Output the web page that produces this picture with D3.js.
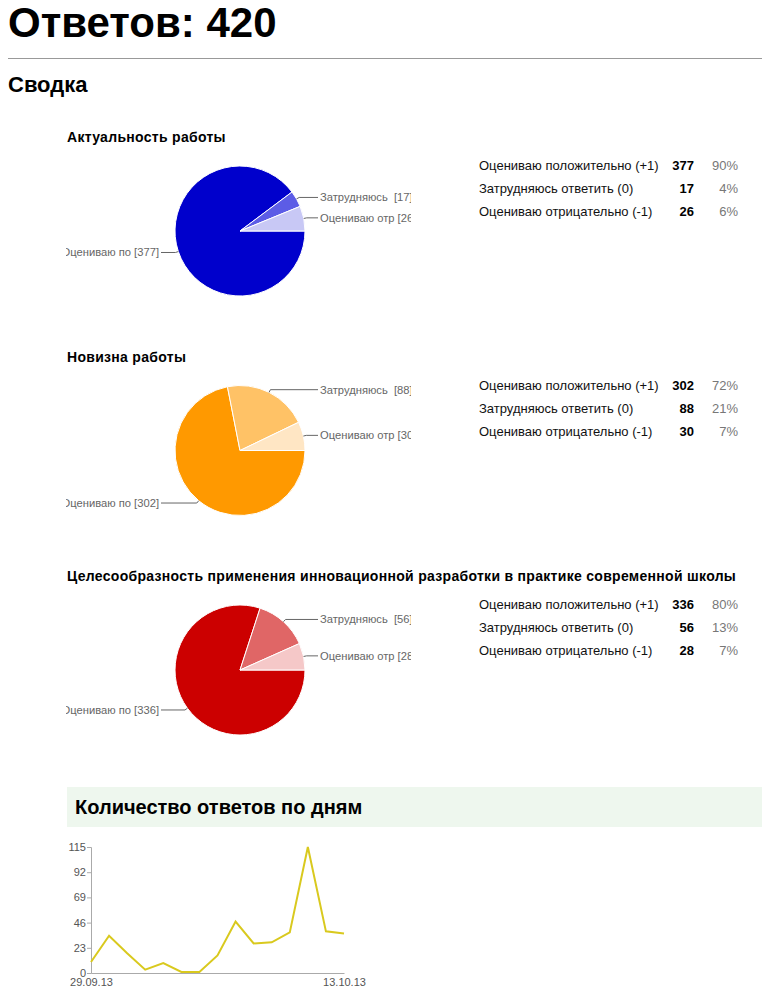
<!DOCTYPE html>
<html>
<head>
	<meta charset="utf-8">
	<script src="https://cdnjs.cloudflare.com/ajax/libs/d3/7.8.5/d3.min.js"></script>
	<style>
		body { margin: 0; background: #fff; }
		svg { display: block; font-family: "Liberation Sans", Arial, sans-serif; }
	</style>
</head>
<body>
	<svg width="762" height="1000" id="chart"></svg>

	<script>
	// data
	const totalAnswers = 420;
	const questions = [
		"Актуальность работы",
		"Новизна работы",
		"Целесообразность применения инновационной разработки в практике современной школы"
	];
	const answerLabels = ["Оцениваю положительно (+1)", "Затрудняюсь ответить (0)", "Оцениваю отрицательно (-1)"];
	const pieLabels = ["Оцениваю по", "Затрудняюсь ", "Оцениваю отр"];
	const answerCounts = [
		[377, 17, 26],
		[302, 88, 30],
		[336, 56, 28]
	];
	const dayLabels = ["29.09.13", "30.09.13", "01.10.13", "02.10.13", "03.10.13", "04.10.13", "05.10.13",
		"06.10.13", "07.10.13", "08.10.13", "09.10.13", "10.10.13", "11.10.13", "12.10.13", "13.10.13"];
	const dayCounts = [10, 34, 18, 3, 9, 1, 1, 16, 47, 27, 28, 37, 115, 38, 36];
	const yTicks = [0, 23, 46, 69, 92, 115];

	// slice colours per question
	const palettes = [
		["#0000cc", "#5c5ce6", "#c8c8f5"],
		["#ff9900", "#ffc266", "#ffe6c4"],
		["#cc0000", "#e06666", "#f5c8c8"]
	];

	const svg = d3.select("svg");

	//page header
	svg.append("text")
		.attr("x", 8).attr("y", 37)
		.style("font", "bold 42px 'Liberation Sans', Arial, sans-serif")
		.attr("fill", "#000")
		.text("Ответов: " + totalAnswers);

	svg.append("line")
		.attr("x1", 8).attr("x2", 762)
		.attr("y1", 58.5).attr("y2", 58.5)
		.attr("stroke", "#999");

	svg.append("text")
		.attr("x", 8).attr("y", 92)
		.style("font", "bold 22px 'Liberation Sans', Arial, sans-serif")
		.text("Сводка");

	//clip for the pie labels
	svg.append("defs").append("clipPath")
		.attr("id", "pieclip")
		.append("rect")
		.attr("x", 66).attr("y", 0).attr("width", 345).attr("height", 1000);

	const pie = d3.pie()
		.sort(null)
		.startAngle(Math.PI / 2)
		.endAngle(Math.PI / 2 + 2 * Math.PI);

	const radius = 65;
	const arc = d3.arc().innerRadius(0).outerRadius(radius);
	const blockStep = 219.5;

	questions.forEach(function(q, i) {
		const top = i * blockStep;
		const g = svg.append("g").attr("transform", "translate(0," + top + ")");

		g.append("text")
			.attr("x", 67).attr("y", 142)
			.style("font", "bold 14px 'Liberation Sans', Arial, sans-serif")
			.style("letter-spacing", "0.3px")
			.text(q);

		const cx = 240, cy = 231;
		const arcs = pie(answerCounts[i]);

		const pg = g.append("g").attr("clip-path", "url(#pieclip)");
		const pc = pg.append("g").attr("transform", "translate(" + cx + "," + cy + ")");

		pc.selectAll("path")
			.data(arcs)
			.enter().append("path")
			.attr("d", arc)
			.attr("fill", function(d, j) { return palettes[i][j]; })
			.attr("stroke", "#fff")
			.attr("stroke-width", 1);

		//leader lines and labels
		arcs.forEach(function(d, j) {
			const a = (d.startAngle + d.endAngle) / 2;
			const sx = Math.sin(a), sy = -Math.cos(a);
			const p0 = [sx * radius, sy * radius];
			const p1 = [sx * (radius + 3), sy * (radius + 3)];
			const right = sx > 0;
			const endX = right ? 318 - cx : 161 - cx;
			pc.append("polyline")
				.attr("points", [p0, p1, [endX, p1[1]]].map(function(p) { return p.join(","); }).join(" "))
				.attr("fill", "none")
				.attr("stroke", "#666")
				.attr("stroke-width", 1);
			pc.append("text")
				.attr("x", right ? endX + 2 : endX - 2)
				.attr("y", p1[1])
				.attr("dy", "0.35em")
				.attr("text-anchor", right ? "start" : "end")
				.style("font-size", "11.2px")
				.style("white-space", "pre")
				.attr("fill", "#666")
				.text(pieLabels[j] + " [" + d.data + "]");
		});

		//summary table
		const rows = g.selectAll(".row")
			.data(answerCounts[i])
			.enter().append("g")
			.attr("class", "row")
			.attr("transform", function(d, j) { return "translate(0," + (170 + j * 23) + ")"; })
			.style("font-size", "13px");

		rows.append("text")
			.attr("x", 479)
			.attr("fill", "#111")
			.text(function(d, j) { return answerLabels[j]; });
		rows.append("text")
			.attr("x", 694)
			.attr("text-anchor", "end")
			.style("font-weight", "bold")
			.text(function(d) { return d; });
		rows.append("text")
			.attr("x", 738)
			.attr("text-anchor", "end")
			.attr("fill", "#777")
			.text(function(d) { return Math.round(d / totalAnswers * 100) + "%"; });
	});

	//daily answers section
	svg.append("rect")
		.attr("x", 67).attr("y", 787)
		.attr("width", 695).attr("height", 40)
		.attr("fill", "#eef7ee");
	svg.append("text")
		.attr("x", 75).attr("y", 814)
		.style("font", "bold 20px 'Liberation Sans', Arial, sans-serif")
		.text("Количество ответов по дням");

	const parseDay = d3.timeParse("%d.%m.%y");
	const days = dayLabels.map(parseDay);

	const x = d3.scaleTime()
		.domain(d3.extent(days))
		.range([91, 344]);
	const y = d3.scaleLinear()
		.domain([0, d3.max(yTicks)])
		.range([973, 847]);

	const yAxis = svg.append("g")
		.attr("transform", "translate(91,0)")
		.call(d3.axisLeft(y).tickValues(yTicks).tickSize(4).tickPadding(1));
	const xAxis = svg.append("g")
		.attr("transform", "translate(0,973)")
		.call(d3.axisBottom(x)
			.tickValues([days[0], days[days.length - 1]])
			.tickFormat(d3.timeFormat("%d.%m.%y"))
			.tickSize(0).tickPadding(5));

	[yAxis, xAxis].forEach(function(ax) {
		ax.select(".domain").attr("stroke", "#aaa");
		ax.selectAll(".tick line").attr("stroke", "#aaa");
		ax.selectAll(".tick text")
			.attr("fill", "#555")
			.style("font-family", "'Liberation Sans', Arial, sans-serif")
			.style("font-size", "11px");
	});

	const line = d3.line()
		.x(function(d, j) { return x(days[j]); })
		.y(function(d) { return y(d); });

	svg.append("path")
		.datum(dayCounts)
		.attr("fill", "none")
		.attr("stroke", "#d9c91e")
		.attr("stroke-width", 2)
		.attr("d", line);
	</script>
</body>
</html>
